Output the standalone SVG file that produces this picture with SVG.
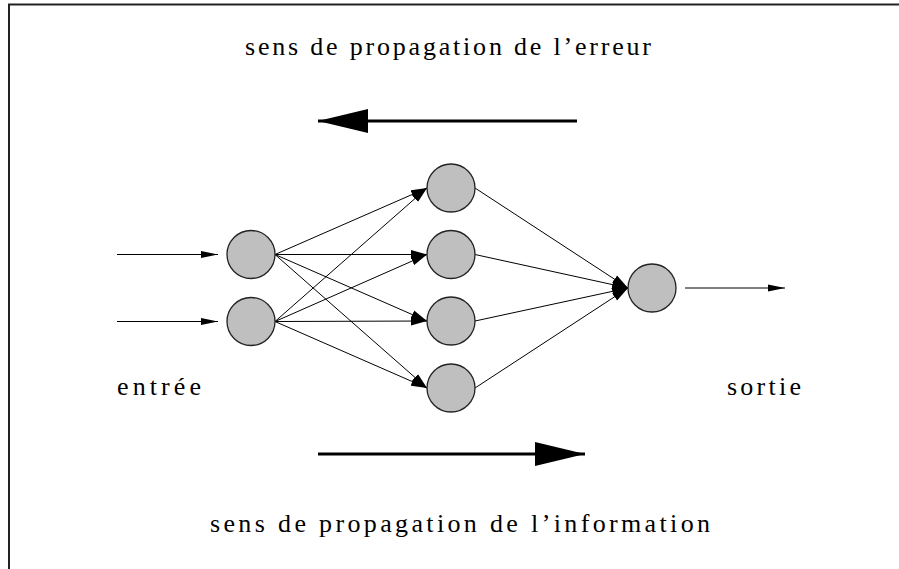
<svg xmlns="http://www.w3.org/2000/svg" width="899" height="569" viewBox="0 0 899 569">
<style>
.node{fill:#bfbfbf;stroke:#222;stroke-width:1.3}
.edge{stroke:#000;stroke-width:1;fill:none}
.big{stroke:#000;stroke-width:3;fill:none}
.lbl{font-family:"Liberation Serif","DejaVu Serif",serif;font-size:26px;fill:#000}
</style>
<defs>
<marker id="ah" markerUnits="userSpaceOnUse" viewBox="0 -5 17 10" refX="16" refY="0" markerWidth="17" markerHeight="10" orient="auto"><path d="M0,-4.5 L16,0 L0,4.5 Z" fill="#000"/></marker>
<marker id="ahs" markerUnits="userSpaceOnUse" viewBox="0 -4 18 8" refX="17" refY="0" markerWidth="18" markerHeight="8" orient="auto"><path d="M0,-3.5 L17,0 L0,3.5 Z" fill="#000"/></marker>
<marker id="ahb" markerUnits="userSpaceOnUse" viewBox="0 -13 51 26" refX="50" refY="0" markerWidth="51" markerHeight="26" orient="auto"><path d="M0,-12 L50,0 L0,12 Z" fill="#000"/></marker>
</defs>
<g id="frame" fill="none" stroke="#222" stroke-width="2">
<polyline points="9,569 9,4.5 899,4.5"/>
</g>
<g id="connectors">
<line class="big" x1="577" y1="121" x2="318" y2="121" marker-end="url(#ahb)"/>
<line class="big" x1="318" y1="454" x2="585" y2="454" marker-end="url(#ahb)"/>
<line class="edge" x1="117" y1="254.5" x2="218" y2="254.5" marker-end="url(#ahs)"/>
<line class="edge" x1="117" y1="321.5" x2="218" y2="321.5" marker-end="url(#ahs)"/>
<line class="edge" x1="685" y1="288" x2="785" y2="288" marker-end="url(#ahs)"/>
<line class="edge" x1="275" y1="254.5" x2="427" y2="188" marker-end="url(#ah)"/>
<line class="edge" x1="275" y1="254.5" x2="427" y2="254.5" marker-end="url(#ah)"/>
<line class="edge" x1="275" y1="254.5" x2="427" y2="321" marker-end="url(#ah)"/>
<line class="edge" x1="275" y1="254.5" x2="427" y2="388" marker-end="url(#ah)"/>
<line class="edge" x1="275" y1="321.5" x2="427" y2="188" marker-end="url(#ah)"/>
<line class="edge" x1="275" y1="321.5" x2="427" y2="254.5" marker-end="url(#ah)"/>
<line class="edge" x1="275" y1="321.5" x2="427" y2="321" marker-end="url(#ah)"/>
<line class="edge" x1="275" y1="321.5" x2="427" y2="388" marker-end="url(#ah)"/>
<line class="edge" x1="475" y1="188" x2="628" y2="288" marker-end="url(#ah)"/>
<line class="edge" x1="475" y1="254.5" x2="628" y2="288" marker-end="url(#ah)"/>
<line class="edge" x1="475" y1="321" x2="628" y2="288" marker-end="url(#ah)"/>
<line class="edge" x1="475" y1="388" x2="628" y2="288" marker-end="url(#ah)"/>
</g>
<g id="in1"><circle class="node" cx="251" cy="254.5" r="24"/></g>
<g id="in2"><circle class="node" cx="251" cy="321.5" r="24"/></g>
<g id="h1"><circle class="node" cx="451" cy="188" r="24"/></g>
<g id="h2"><circle class="node" cx="451" cy="254.5" r="24"/></g>
<g id="h3"><circle class="node" cx="451" cy="321" r="24"/></g>
<g id="h4"><circle class="node" cx="451" cy="388" r="24"/></g>
<g id="out"><circle class="node" cx="652" cy="288" r="24"/></g>
<g id="labels">
<text class="lbl" x="245" y="55" textLength="406" lengthAdjust="spacing">sens de propagation de l’erreur</text>
<text class="lbl" x="210" y="532" textLength="500" lengthAdjust="spacing">sens de propagation de l’information</text>
<text class="lbl" x="117" y="395" textLength="84" lengthAdjust="spacing">entrée</text>
<text class="lbl" x="727" y="395" textLength="74" lengthAdjust="spacing">sortie</text>
</g>
</svg>
